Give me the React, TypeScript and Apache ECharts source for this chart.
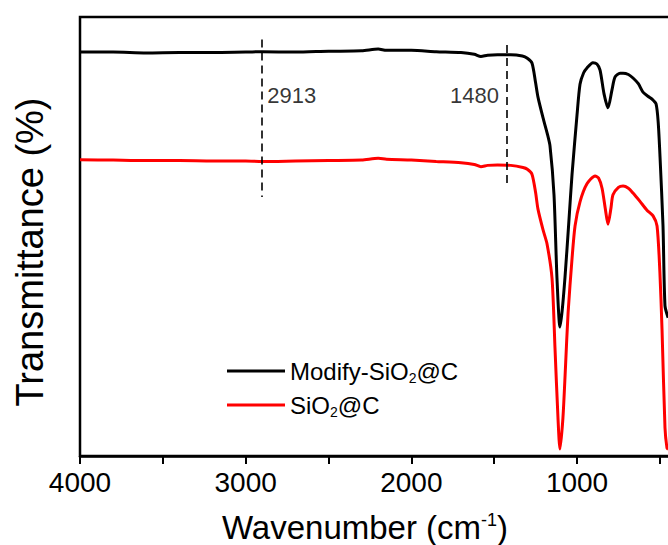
import React, { useEffect, useRef } from "react";
import * as echarts from "echarts";

// ---- data ----
const modifyWave = [4000, 3800, 3600, 3400, 3200, 3000, 2900, 2700, 2500, 2300, 2200, 2150, 2000, 1850, 1700, 1620, 1580, 1540, 1480, 1400, 1330, 1300, 1272, 1250, 1236, 1205, 1180, 1163, 1139, 1121, 1103, 1090, 1073, 1050, 1030, 1000, 982, 960, 940, 904, 880, 861, 837, 813, 789, 771, 740, 722, 690, 662, 630, 602, 570, 547, 523, 510, 499, 481, 469, 450];
const modifyT = [92.0, 92.0, 91.8, 91.9, 91.9, 92.0, 92.1, 92.0, 92.2, 92.3, 92.7, 92.4, 92.4, 92.1, 91.9, 91.5, 91.0, 91.3, 91.4, 91.4, 91.1, 90.6, 89.5, 85.0, 81.8, 77.0, 73.5, 70.6, 59.5, 40.5, 29.4, 33.0, 40.5, 53.0, 64.2, 77.7, 84.7, 87.3, 88.4, 89.6, 89.3, 87.9, 82.5, 79.3, 83.4, 86.3, 87.2, 87.2, 86.9, 86.1, 84.8, 82.9, 81.9, 81.3, 80.2, 76.0, 68.1, 52.4, 34.2, 31.5];

const sio2Wave = [4000, 3800, 3600, 3400, 3200, 3000, 2900, 2700, 2500, 2300, 2200, 2150, 2000, 1850, 1700, 1620, 1580, 1540, 1480, 1400, 1326, 1300, 1272, 1250, 1236, 1205, 1181, 1151, 1133, 1115, 1103, 1085, 1070, 1054, 1030, 1012, 982, 940, 891, 870, 849, 830, 813, 795, 783, 750, 722, 690, 662, 620, 578, 541, 517, 500, 487, 469, 457, 450];
const sio2T = [67.5, 67.4, 67.3, 67.3, 67.2, 67.2, 67.1, 67.2, 67.3, 67.4, 67.8, 67.6, 67.4, 67.1, 66.8, 66.4, 65.9, 66.2, 66.3, 66.2, 65.7, 65.3, 64.2, 60.0, 56.3, 51.5, 48.3, 40.5, 24.6, 8.7, 1.6, 8.7, 20.0, 32.6, 45.0, 52.4, 57.9, 62.0, 63.8, 63.3, 61.0, 56.5, 52.8, 56.5, 59.5, 61.2, 61.5, 61.0, 59.9, 58.0, 56.0, 54.7, 52.4, 42.0, 28.9, 6.4, 1.8, 1.5];

const seriesNames = ["Modify-SiO2@C", "SiO2@C"];
const seriesColors = ["#000000", "#ff0000"];

// dashed guide lines: drawn position, label text, top / bottom transmittance
const guideWave = [2900, 1423];
const guideLabels = ["2913", "1480"];
const guideTop = [94.9, 93.6];
const guideBottom = [59.0, 61.7];
const guideLabelT = 82.2;

const xTickMin = 0;
const xTickMax = 4000;
const xTickStep = 1000;

const FONT = '"Liberation Sans", Arial, sans-serif';

export default function App() {
  const ref = useRef<HTMLDivElement>(null);

  useEffect(() => {
    if (!ref.current) return;
    const chart = echarts.init(ref.current, undefined, { renderer: "svg" });

    const legendFmt = (name: string) => {
      const parts = name.split("2");
      return `{a|${parts[0]}}{s|2}{a|${parts.slice(1).join("2")}}`;
    };

    const option: any = {
      animation: false,
      backgroundColor: "#ffffff",
      grid: {
        left: 80,
        right: 17.3,
        top: 17,
        bottom: 89,
        show: true,
        borderColor: "#000",
        borderWidth: 2.5,
        containLabel: false,
        outerBoundsMode: "none",
      },
      legend: {
        data: seriesNames,
        orient: "vertical",
        left: 222,
        top: 352,
        icon: "rect",
        itemWidth: 58,
        itemHeight: 3,
        itemGap: 6,
        formatter: legendFmt,
        textStyle: {
          color: "#000",
          fontFamily: FONT,
          fontSize: 24,
          lineHeight: 28,
          rich: {
            a: { fontSize: 24, lineHeight: 28, fontFamily: FONT, color: "#000" },
            s: { fontSize: 14, lineHeight: 8, verticalAlign: "bottom", fontFamily: FONT, color: "#000" },
          },
        },
      },
      xAxis: {
        type: "value",
        inverse: true,
        min: xTickMin,
        max: xTickMax,
        interval: xTickStep,
        axisLine: { show: true, lineStyle: { color: "#000", width: 2.5 } },
        axisTick: { show: true, inside: false, length: 8, lineStyle: { color: "#000", width: 2 } },
        minorTick: { show: true, splitNumber: 2, length: 8, lineStyle: { color: "#000", width: 2 } },
        splitLine: { show: false },
        axisLabel: {
          color: "#000",
          fontFamily: FONT,
          fontSize: 28,
          margin: 12,
          formatter: (v: number) => (v === xTickMin ? "" : String(v)),
        },
      },
      yAxis: {
        type: "value",
        min: 0,
        max: 100,
        axisLine: { show: true, lineStyle: { color: "#000", width: 2.5 } },
        axisTick: { show: false },
        axisLabel: { show: false },
        splitLine: { show: false },
      },
      graphic: [
        {
          type: "text",
          x: 365,
          y: 527,
          style: {
            text: "{a|Wavenumber (cm}{p|-1}{a|)}",
            align: "center",
            verticalAlign: "middle",
            fill: "#000",
            rich: {
              a: { fontSize: 33, lineHeight: 33, fontFamily: FONT, fill: "#000" },
              p: { fontSize: 18, lineHeight: 20, verticalAlign: "top", fontFamily: FONT, fill: "#000" },
            },
          },
        },
        {
          type: "text",
          x: 30,
          y: 252,
          rotation: Math.PI / 2,
          style: {
            text: "Transmittance (%)",
            align: "center",
            verticalAlign: "middle",
            fontSize: 38,
            fontFamily: FONT,
            fill: "#000",
          },
        },
      ],
      series: [
        {
          name: seriesNames[0],
          type: "line",
          data: modifyWave.map((w, i) => [w, modifyT[i]]),
          symbol: "none",
          smooth: 0.25,
          lineStyle: { color: seriesColors[0], width: 3 },
          itemStyle: { color: seriesColors[0] },
          z: 3,
        },
        {
          name: seriesNames[1],
          type: "line",
          data: sio2Wave.map((w, i) => [w, sio2T[i]]),
          symbol: "none",
          smooth: 0.25,
          lineStyle: { color: seriesColors[1], width: 3 },
          itemStyle: { color: seriesColors[1] },
          z: 2,
        },
        {
          name: "guides",
          type: "scatter",
          symbolSize: 0,
          silent: true,
          data: guideWave.map((w, i) => ({
            value: [w, guideLabelT],
            label: {
              show: true,
              formatter: guideLabels[i],
              position: i === 0 ? "right" : "left",
              distance: i === 0 ? 5 : 8,
              color: "#000",
              fontFamily: FONT,
              fontSize: 22,
            },
          })),
          markLine: {
            silent: true,
            symbol: "none",
            label: { show: false },
            lineStyle: { color: "#000", width: 1.6, type: [8, 5] },
            data: guideWave.map((w, i) => [
              { coord: [w, guideTop[i]] },
              { coord: [w, guideBottom[i]] },
            ]),
          },
        },
      ],
    };

    chart.setOption(option);
    return () => chart.dispose();
  }, []);

  return (
    <div style={{ position: "absolute", left: 0, top: 0, width: 668, height: 545, overflow: "hidden", background: "#fff" }}>
      <div ref={ref} style={{ width: 760, height: 545 }} />
    </div>
  );
}
